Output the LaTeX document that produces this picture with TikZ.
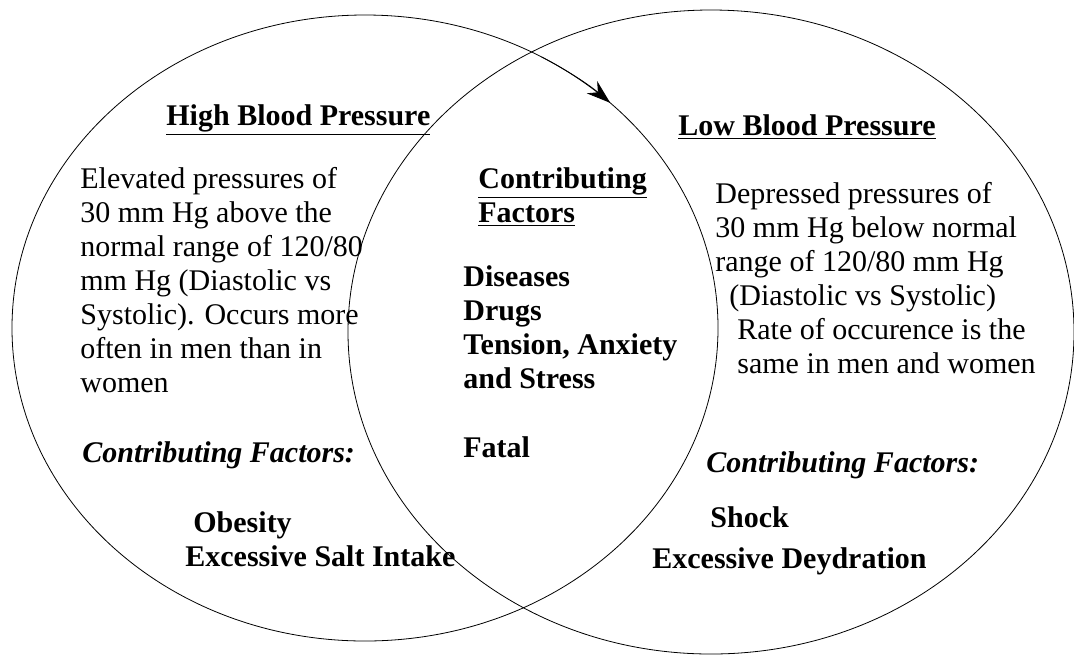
\documentclass[tikz,border=0pt]{standalone}
\usepackage{fontspec}
\setmainfont{Liberation Serif}
\usetikzlibrary{arrows.meta}

\begin{document}
\begin{tikzpicture}[x=0.5pt,y=-0.5pt]
	\tikzstyle{every node}+=[inner sep=0pt, anchor=base west, align=left, font=\fontsize{15}{17}\selectfont]
	\tikzstyle{head}=[font=\fontsize{15}{17}\selectfont\bfseries]
	\tikzstyle{factor}=[font=\fontsize{15}{17}\selectfont\bfseries\itshape]
	\useasboundingbox (0,0) rectangle (1074,654);
	% the two sets
	\coordinate (highcenter) at (365,328);
	\coordinate (lowcenter) at (711,332);
	\draw [black] (highcenter) ellipse [x radius=353, y radius=313];
	\draw [black] (lowcenter) ellipse [x radius=363, y radius=322];
	\draw [black, -{Stealth[length=12pt, width=8pt]}] (highcenter) ++(-60:353 and 313) arc [start angle=-60, end angle=-46, x radius=353, y radius=313];
	% left set (multi-line nodes sit on their last line)
	\node [head] (hightitle) at (166,125) {\underline{High Blood Pressure}};
	\node (hightext) at (80,392) {Elevated pressures of\\30 mm Hg above the\\normal range of 120/80\\mm Hg (Diastolic vs\\Systolic). Occurs more\\often in men than in\\women};
	\node [factor] (highfactors) at (82,462) {Contributing Factors:};
	\node [head] (obesity) at (193,532) {Obesity};
	\node [head] (salt) at (185,566) {Excessive Salt Intake};
	% overlap
	\node [head] (commontitle) at (478,222) {\underline{Contributing}\\\underline{Factors}};
	\node [head] (commonlist) at (463,388) {Diseases\\Drugs\\Tension, Anxiety\\and Stress};
	\node [head] (fatal) at (463,457) {Fatal};
	% right set
	\node [head] (lowtitle) at (678,135) {\underline{Low Blood Pressure}};
	\node (lowtext) at (715,373) {Depressed pressures of\\30 mm Hg below normal\\range of 120/80 mm Hg\\\hspace*{7pt}(Diastolic vs Systolic)\\\hspace*{11pt}Rate of occurence is the\\\hspace*{11pt}same in men and women};
	\node [factor] (lowfactors) at (706,472) {Contributing Factors:};
	\node [head] (shock) at (710,527) {Shock};
	\node [head] (dehydration) at (652,568) {Excessive Deydration};
\end{tikzpicture}
\end{document}
